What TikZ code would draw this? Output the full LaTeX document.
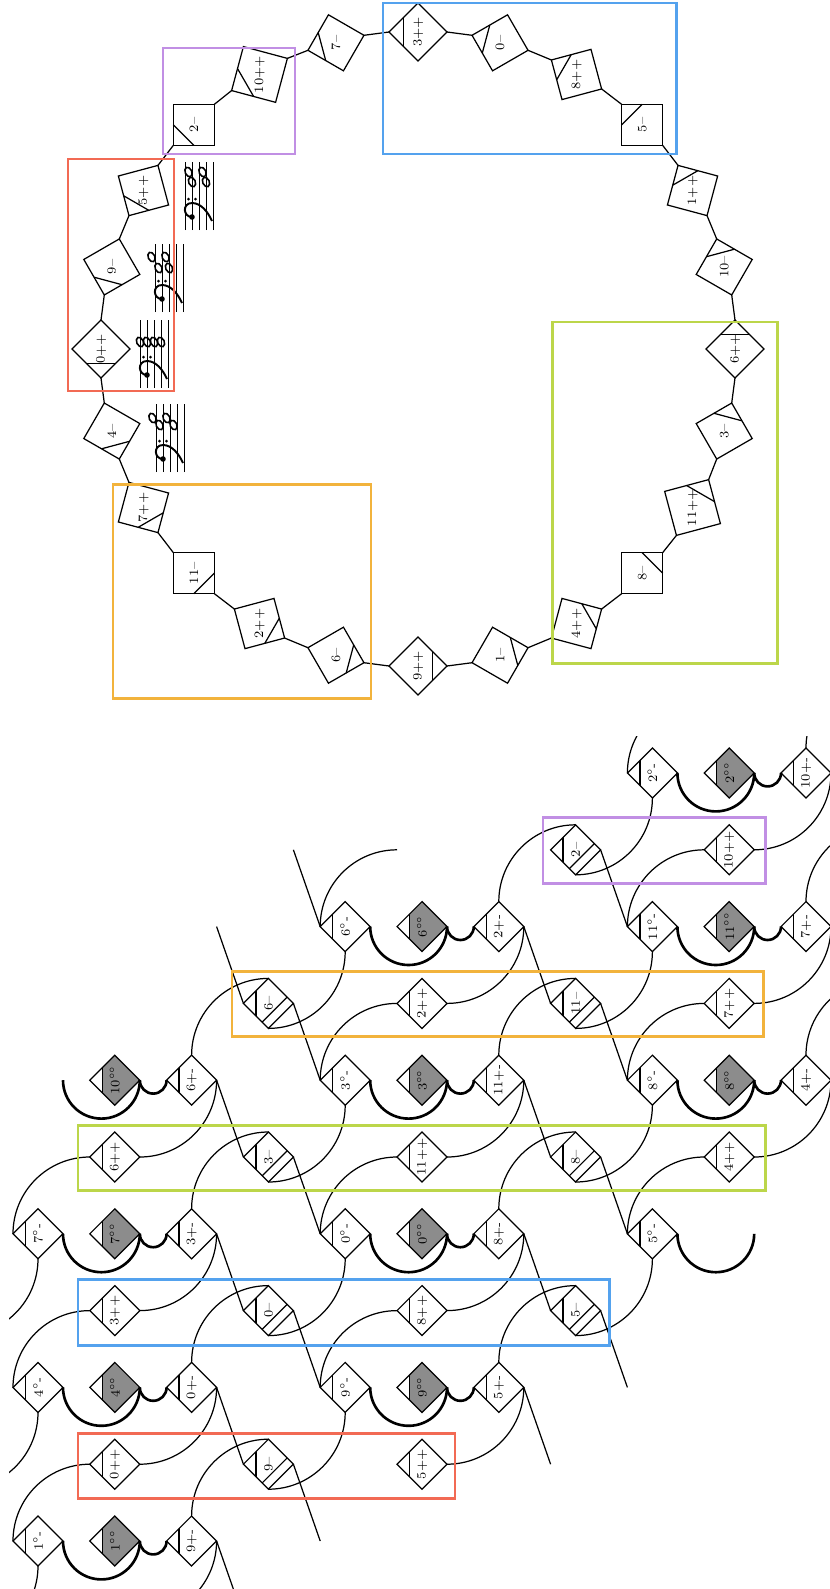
\documentclass[tikz,border=0pt]{standalone}
\usepackage{graphicx}
\usetikzlibrary{shapes.geometric,calc}
\definecolor{BoxRed}{HTML}{F26A54}
\definecolor{BoxBlue}{HTML}{54A2EE}
\definecolor{BoxGreen}{HTML}{BCD64A}
\definecolor{BoxOrange}{HTML}{F2B33C}
\definecolor{BoxPurple}{HTML}{C18FE4}
\definecolor{CellGray}{HTML}{8C8C8C}
\newcommand\cellfont{\fontsize{7.3}{8}\selectfont}

\tikzset{
  clefstaff/.pic={
    \foreach \l in {0,7,14,21,28} \draw[line width=0.5pt] (0,\l) -- (68,\l);
    \fill (13,21) circle (2.8);
    \draw[line width=1.1pt] (13,21) .. controls (13,30) and (27,31) .. (27,21)
      .. controls (27,12) and (18,5) .. (9,1);
    \fill (31,24.5) circle (1.5);
    \fill (31,17.5) circle (1.5);
  }
}

\begin{document}
\begin{tikzpicture}[x=0.02cm, y=0.02cm,
  wire/.style={line width=0.7pt},
  bond/.style={line width=1.5pt},
  cut/.style={line width=0.7pt},
  frame/.style={line width=1.7pt},
  note/.style={line width=0.9pt},
  ring/.style={diamond, draw, line width=0.7pt, minimum size=1.16cm,
               inner sep=0pt, outer sep=0pt, font=\cellfont},
  gap/.style={diamond, minimum size=1cm, inner sep=0pt, outer sep=0pt},
  cell/.style={diamond, draw, line width=0.7pt, minimum size=1cm,
               inner sep=0pt, outer sep=0pt, font=\cellfont,
               path picture={\draw[cut]
                 ($(path picture bounding box.north)!0.5!(path picture bounding box.north west)$) --
                 ($(path picture bounding box.south)!0.5!(path picture bounding box.south west)$);}},
  shade/.style={cell,
               path picture={\fill[CellGray]
                 ($(path picture bounding box.south)!0.5!(path picture bounding box.south west)$)
                 rectangle (path picture bounding box.north east);
                 \draw[cut]
                 ($(path picture bounding box.north)!0.5!(path picture bounding box.north west)$) --
                 ($(path picture bounding box.south)!0.5!(path picture bounding box.south west)$);}},
  dcell/.style={cell,
               path picture={\draw[cut]
                 ($(path picture bounding box.north)!0.5!(path picture bounding box.north west)$) --
                 ($(path picture bounding box.south)!0.5!(path picture bounding box.south west)$);
                 \draw[cut]
                 ($(path picture bounding box.south)!0.25!(path picture bounding box.west)$) --
                 ($(path picture bounding box.east)!0.25!(path picture bounding box.north)$);}}
]
\useasboundingbox (0,0) rectangle (830,-1589);

% circle of chords
\foreach \lbl [count=\k from 0] in {0++,9--,5++,2--,10++,7--,3++,0--,8++,5--,1++,10--,
                                    6++,3--,11++,8--,4++,1--,9++,6--,2++,11--,7++,4--}{
  \pgfmathsetmacro\a{180-15*\k}
  \pgfmathsetmacro\b{15*\k-90}
  \node[ring, rotate=\a] (R\k) at ($(418,-349)+(\a:317)$) {\rotatebox{\b}{\lbl}};
}
\foreach \k in {0,...,23}{
  \pgfmathtruncatemacro\n{mod(\k+1,24)}
  \draw[wire] (R\k.south) -- (R\n.north);
  \draw[cut] ($(R\k.north)!0.5!(R\k.west)$) -- ($(R\k.north)!0.5!(R\k.east)$);
}

% staves
\begin{scope}[shift={(213,-230)}, rotate=90]
  \pic[transform shape] {clefstaff};
  \foreach \x/\y in {58/24.5, 58/10.5, 48/21, 48/7}
    \draw[note, rotate around={25:(\x,\y)}] (\x,\y) ellipse (5 and 3.3);
\end{scope}
\begin{scope}[shift={(183,-312)}, rotate=90]
  \pic[transform shape] {clefstaff};
  \foreach \x/\y in {55/31.5, 55/17.5, 44/24.5, 44/14}
    \draw[note, rotate around={25:(\x,\y)}] (\x,\y) ellipse (5 and 3.3);
\end{scope}
\begin{scope}[shift={(168,-388)}, rotate=90]
  \pic[transform shape] {clefstaff};
  \foreach \x/\y in {46/7, 46/14, 46/21, 46/28}
    \draw[note, rotate around={25:(\x,\y)}] (\x,\y) ellipse (5 and 3.3);
\end{scope}
\begin{scope}[shift={(184,-472)}, rotate=90]
  \pic[transform shape] {clefstaff};
  \foreach \x/\y in {54/31.5, 47/24.5, 54/17.5, 47/10.5}
    \draw[note, rotate around={25:(\x,\y)}] (\x,\y) ellipse (5 and 3.3);
\end{scope}

% lattice
\begin{scope}
\clip (9,-736) rectangle (830,-1589);
\foreach \row/\col/\kind/\txt in {
   0/8/cell/{2$^\circ$-}, 0/9/shade/{2$^{\circ\circ}$}, 0/10/cell/{10+-},
   1/7/dcell/{2--}, 1/9/cell/{10++},
   2/4/cell/{6$^\circ$-}, 2/5/shade/{6$^{\circ\circ}$}, 2/6/cell/{2+-},
   2/8/cell/{11$^\circ$-}, 2/9/shade/{11$^{\circ\circ}$}, 2/10/cell/{7+-},
   3/3/dcell/{6--}, 3/5/cell/{2++}, 3/7/dcell/{11--}, 3/9/cell/{7++},
   4/1/shade/{10$^{\circ\circ}$}, 4/2/cell/{6+-}, 4/4/cell/{3$^\circ$-},
   4/5/shade/{3$^{\circ\circ}$}, 4/6/cell/{11+-}, 4/8/cell/{8$^\circ$-},
   4/9/shade/{8$^{\circ\circ}$}, 4/10/cell/{4+-},
   5/1/cell/{6++}, 5/3/dcell/{3--}, 5/5/cell/{11++}, 5/7/dcell/{8--}, 5/9/cell/{4++},
   6/0/cell/{7$^\circ$-}, 6/1/shade/{7$^{\circ\circ}$}, 6/2/cell/{3+-},
   6/4/cell/{0$^\circ$-}, 6/5/shade/{0$^{\circ\circ}$}, 6/6/cell/{8+-}, 6/8/cell/{5$^\circ$-},
   7/1/cell/{3++}, 7/3/dcell/{0--}, 7/5/cell/{8++}, 7/7/dcell/{5--},
   8/0/cell/{4$^\circ$-}, 8/1/shade/{4$^{\circ\circ}$}, 8/2/cell/{0+-},
   8/4/cell/{9$^\circ$-}, 8/5/shade/{9$^{\circ\circ}$}, 8/6/cell/{5+-},
   9/1/cell/{0++}, 9/3/dcell/{9--}, 9/5/cell/{5++},
   10/0/cell/{1$^\circ$-}, 10/1/shade/{1$^{\circ\circ}$}, 10/2/cell/{9+-}}
  \node[\kind] (L-\row-\col) at ({38+76.8*\col},{-773-76.8*\row}) {\rotatebox{90}{\txt}};
% free ends
\foreach \row/\col in {4/0, 1/3, 2/2, 9/7, 8/8, 11/3, 10/4}
  \node[gap] (L-\row-\col) at ({38+76.8*\col},{-773-76.8*\row}) {};

\foreach \a/\b in {2-6/3-7, 4-2/5-3, 4-6/5-7, 6-2/7-3, 6-6/7-7, 8-2/9-3, 8-6/9-7,
                   10-2/11-3, 2-2/3-3, 1-7/2-8, 3-3/4-4, 3-7/4-8, 5-3/6-4, 5-7/6-8,
                   7-3/8-4, 7-7/8-8, 9-3/10-4, 1-3/2-4}
  \draw[wire] (L-\a.east) -- (L-\b.west);
\foreach \n in {0-8, 2-4, 2-8, 4-4, 4-8, 6-0, 6-4, 6-8, 8-0, 8-4, 10-0}{
  \draw[wire] (L-\n.south) arc[start angle=0, end angle=-90, radius=76.8];
  \draw[wire] (L-\n.west) arc[start angle=180, end angle=90, radius=76.8];
}
\foreach \n in {0-10, 2-6, 2-10, 4-2, 4-6, 4-10, 6-2, 6-6, 8-2, 8-6, 10-2}{
  \draw[wire] (L-\n.north) arc[start angle=180, end angle=90, radius=76.8];
  \draw[wire] (L-\n.east) arc[start angle=0, end angle=-90, radius=76.8];
}
\foreach \n in {0-8, 2-4, 2-8, 4-0, 4-4, 4-8, 6-0, 6-4, 6-8, 8-0, 8-4, 10-0}
  \draw[bond] (L-\n.east) arc[start angle=180, end angle=360, radius=38.4];
\foreach \n in {0-9, 2-5, 2-9, 4-1, 4-5, 4-9, 6-1, 6-5, 8-1, 8-5, 10-1}
  \draw[bond] (L-\n.east) arc[start angle=180, end angle=360, radius=13.4];
\end{scope}

% groups
\draw[frame, BoxRed] (68,-159) rectangle (174,-391);
\draw[frame, BoxPurple] (163,-48) rectangle (295,-154);
\draw[frame, BoxBlue] (383,-3) rectangle (676,-154);
\draw[frame, BoxOrange] (113,-484) rectangle (371,-698);
\draw[frame, BoxGreen] (552,-322) rectangle (777,-663);
\draw[frame, BoxPurple] (543,-817) rectangle (765,-883);
\draw[frame, BoxOrange] (232,-971) rectangle (763,-1036);
\draw[frame, BoxGreen] (78,-1125) rectangle (765,-1190);
\draw[frame, BoxBlue] (78,-1279) rectangle (609,-1345);
\draw[frame, BoxRed] (78,-1433) rectangle (455,-1498);
\end{tikzpicture}
\end{document}
